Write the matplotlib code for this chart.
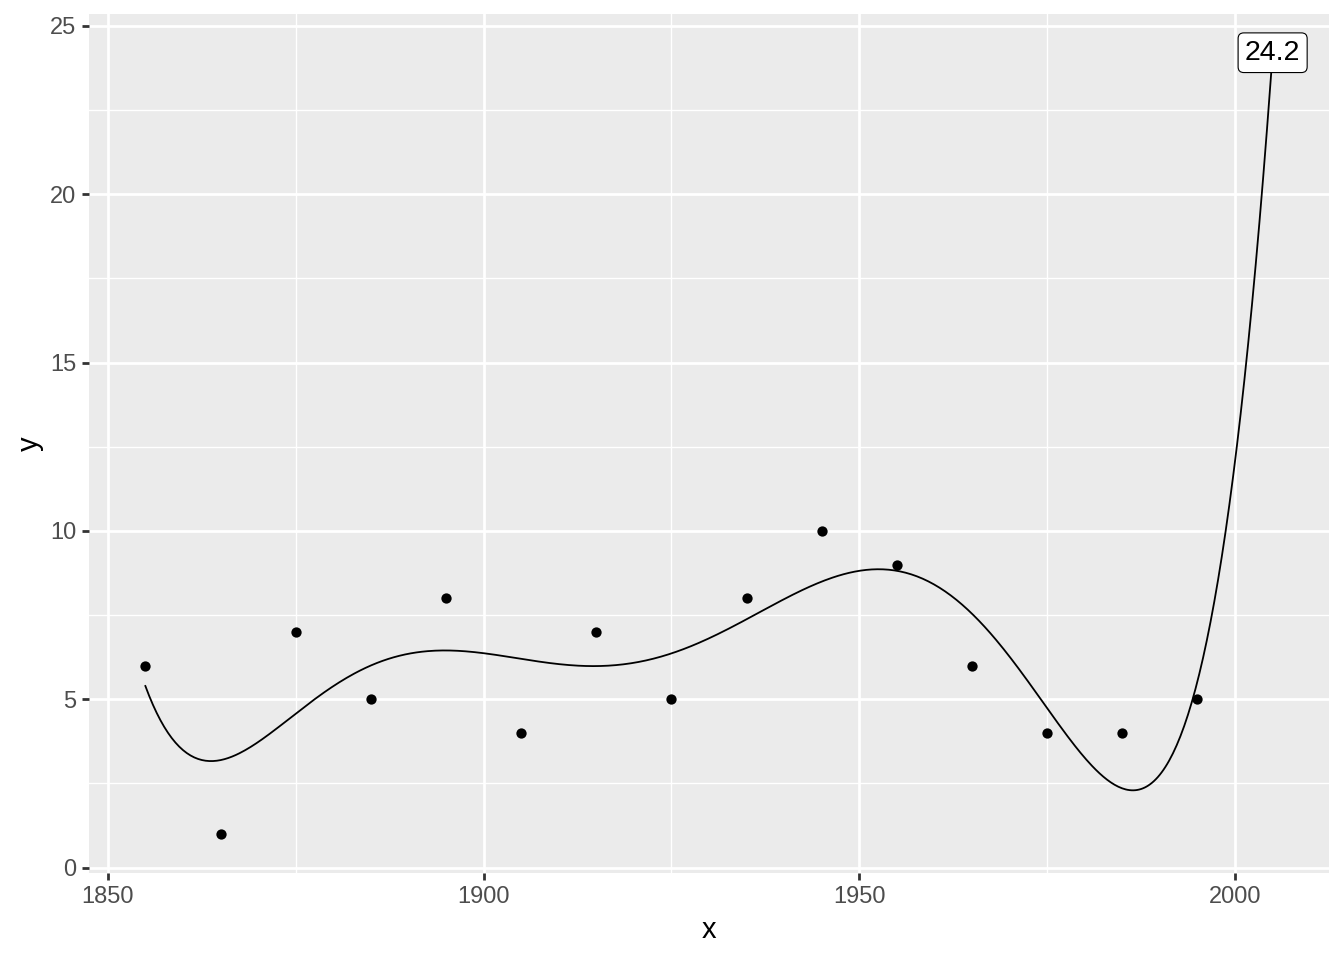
import numpy as np
import matplotlib
matplotlib.use("Agg")
import matplotlib.pyplot as plt
from matplotlib.ticker import MultipleLocator

# data
x_vals = [1855, 1865, 1875, 1885, 1895, 1905, 1915, 1925, 1935, 1945, 1955, 1965, 1975, 1985, 1995]
y_vals = [6, 1, 7, 5, 8, 4, 7, 5, 8, 10, 9, 6, 4, 4, 5]
fit_degree = 6
curve_end = 2005
label_x = 2005
label_value = 24.2
x_ticks = [1850, 1900, 1950, 2000]
y_ticks = [0, 5, 10, 15, 20, 25]

plt.rcParams['font.family'] = ['Liberation Sans', 'DejaVu Sans']

fig = plt.figure(figsize=(13.44, 9.6), dpi=100)
ax = fig.add_axes([89/1344, 1-873/960, (1329-89)/1344, (873-14)/960])
ax.set_facecolor('#EBEBEB')

xs = np.array(x_vals, float)
ys = np.array(y_vals, float)
mu, sd = xs.mean(), xs.std()
coef = np.polyfit((xs - mu) / sd, ys, fit_degree)
xx = np.linspace(xs.min(), curve_end, 600)
yy = np.polyval(coef, (xx - mu) / sd)

ax.plot(xx, yy, color='black', lw=1.3, zorder=3)
ax.scatter(xs, ys, s=55, color='black', zorder=4, linewidths=0)
ax.text(label_x, label_value, f"{label_value:.1f}", ha='center', va='center',
        fontsize=20.5, color='black', zorder=5,
        bbox=dict(boxstyle='round,pad=0.24,rounding_size=0.2', fc='white', ec='black', lw=0.8))

ax.set_xlim(1847.5, 2012.5)
ax.set_ylim(-0.16, 25.35)
ax.set_xticks(x_ticks)
ax.set_yticks(y_ticks)
ax.xaxis.set_minor_locator(MultipleLocator(25))
ax.yaxis.set_minor_locator(MultipleLocator(2.5))
ax.grid(which='major', color='white', lw=2.0)
ax.grid(which='minor', color='white', lw=1.0)
ax.set_axisbelow(True)
for s in ax.spines.values():
    s.set_visible(False)
ax.tick_params(which='major', length=5.3, width=2.0, color='#333333',
               labelsize=17, labelcolor='#4D4D4D', pad=4)
ax.tick_params(which='minor', length=0)
ax.set_xlabel('x', fontsize=21, color='black', labelpad=6)
ax.set_ylabel('y', fontsize=21, color='black', labelpad=4)

fig.savefig("out.png", dpi=100)
